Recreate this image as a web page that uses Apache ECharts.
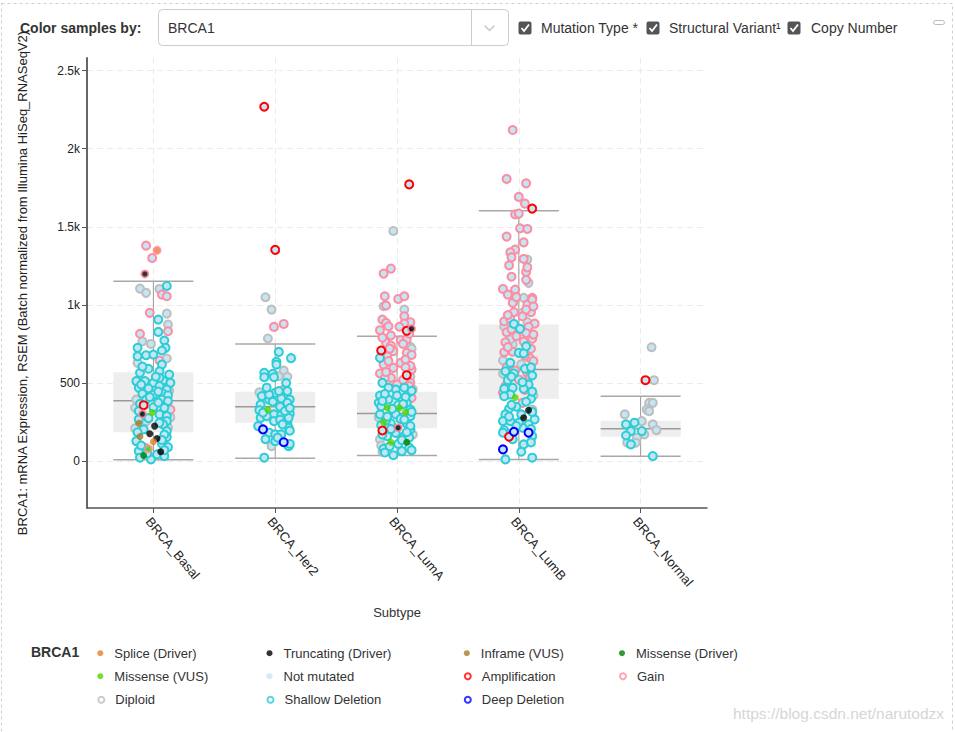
<!DOCTYPE html>
<html><head><meta charset="utf-8">
<script src="https://cdn.jsdelivr.net/npm/echarts@6/dist/echarts.min.js"></script>
<style>html,body{margin:0;padding:0;background:#fff;}#chart{width:955px;height:732px;}</style>
</head><body><div id="chart"></div>
<script>
// ---------------- DATA ----------------
const categories = ['BRCA_Basal', 'BRCA_Her2', 'BRCA_LumA', 'BRCA_LumB', 'BRCA_Normal'];
const yTicks = [0, 500, 1000, 1500, 2000, 2500];
const yTickLabels = ['0', '500', '1k', '1.5k', '2k', '2.5k'];
const yAxisTitle = 'BRCA1: mRNA Expression, RSEM (Batch normalized from Illumina HiSeq_RNASeqV2)';
const xAxisTitle = 'Subtype';

// box stats per subtype: [low whisker, Q1, median, Q3, high whisker]
const boxBasal  = [9, 185, 386, 569, 1151];
const boxHer2   = [19, 245, 348, 444, 750];
const boxLumA   = [36, 211, 305, 444, 799];
const boxLumB   = [11, 399, 586, 874, 1603];
const boxNormal = [32, 156, 207, 258, 416];

// samples: [value, jitter (category units), copy number code, mutation code]
// copy number: d Diploid, g Gain, a Amplification, s Shallow Deletion, x Deep Deletion
// mutation: P Splice (Driver), T Truncating (Driver), I Inframe (VUS), M Missense (Driver), V Missense (VUS)
const ptsBasal = [
  [1379,-0.06,'g'],[1349,0.03,'g','P'],[1300,-0.01,'g'],[1198,-0.07,'g','T'],[1104,-0.11,'d'],[1077,-0.06,'d'],
  [1102,0.05,'d'],[1121,0.11,'s'],[1066,0.07,'g'],[1055,0.11,'g'],[949,-0.03,'g'],[944,0.11,'d'],[906,0.04,'s'],
  [874,0.12,'d'],[831,0.12,'g'],[827,0.04,'s'],[815,-0.11,'g'],[767,-0.09,'d'],[750,-0.02,'d'],[772,0.09,'s'],
  [725,0.10,'s'],[725,-0.13,'s'],[708,0.07,'s'],[678,-0.06,'s'],[682,0,'s'],[671,-0.13,'s'],[657,0.11,'d'],
  [644,0.05,'g'],[629,-0.13,'d'],[618,0.07,'s'],[591,-0.04,'s'],[565,-0.11,'s'],[575,0.05,'s'],[554,0.13,'s'],
  [512,-0.14,'s'],[512,-0.07,'s'],[516,0.08,'s'],[501,0,'s'],[501,0.14,'s'],[469,-0.12,'s'],[465,-0.04,'s'],
  [480,0.05,'s'],[458,0.11,'s'],[431,-0.09,'s'],[426,0,'s'],[437,0.07,'s'],[422,0.12,'s'],[394,-0.14,'d'],
  [394,-0.06,'s'],[394,0.07,'s'],[384,0.12,'s'],[367,-0.11,'s'],[358,-0.08,'a'],[345,0,'s'],[341,0.09,'s'],
  [330,0.14,'g'],[341,-0.15,'d'],[299,0.05,'s'],[288,0.11,'s'],[267,-0.12,'s'],[256,-0.06,'d'],[256,0.11,'s'],
  [235,0.08,'s'],[214,0.12,'d'],[203,-0.08,'s'],[154,0.11,'s'],[128,-0.14,'s'],[111,0.07,'s'],[90,0.12,'s'],
  [86,-0.07,'g'],[64,-0.12,'s'],[11,-0.02,'s'],[43,0.03,'s'],[22,-0.11,'s'],[32,0.09,'s'],[533,0.05,'s'],
  [192,0.11,'s'],[605,-0.09,'s'],[540,0.02,'s'],[490,-0.10,'s'],[445,0.04,'s'],[410,-0.03,'s'],[375,0.04,'s'],
  [320,-0.12,'s'],[275,-0.04,'s'],[245,0.05,'s'],[185,-0.13,'s'],[170,0.09,'s'],[135,0.07,'s'],[100,-0.10,'s'],
  [70,0.09,'s'],[50,-0.05,'s'],[450,0.13,'d'],[210,-0.15,'d'],[280,0.14,'d'],
  [301,-0.09,'g','T'],[311,-0.01,'d','V'],[243,-0.12,'d','I'],[224,0.01,'d','T'],[175,-0.03,'d','T'],
  [158,-0.11,'d','I'],[145,0.03,'d','T'],[124,0,'d','P'],[79,-0.04,'g','V'],[60,0.06,'d','T'],[36,-0.08,'d','M']
];
const ptsHer2 = [
  [2268,-0.09,'a'],[1352,0,'a'],[1049,-0.08,'d'],[970,-0.03,'d'],[859,-0.01,'g'],[878,0.07,'g'],[785,-0.06,'d'],
  [699,0.03,'s'],[659,0.13,'s'],[636,0.01,'s'],[618,0.01,'s'],[580,0.07,'d'],[565,-0.09,'s'],[559,-0.02,'s'],
  [537,-0.09,'s'],[537,-0.01,'s'],[543,0.03,'d'],[458,0.07,'g'],[448,0.10,'s'],[416,-0.11,'s'],[437,0,'s'],
  [394,-0.05,'s'],[401,0.05,'s'],[394,0.12,'s'],[362,-0.12,'s'],[373,0.10,'s'],[348,0.04,'s'],[326,-0.13,'s'],
  [299,-0.01,'s'],[294,0.05,'s'],[303,0.12,'s'],[277,-0.12,'s'],[288,-0.07,'s'],[246,0.10,'s'],[277,0.11,'s'],
  [203,-0.10,'x'],[182,-0.05,'s'],[171,0,'s'],[214,0.11,'s'],[121,0.07,'x'],[128,0,'s'],[96,-0.03,'d'],
  [96,0.11,'s'],[22,-0.09,'s'],[171,0.05,'s'],[224,-0.14,'s'],[256,-0.01,'s'],[448,0.03,'s'],[426,-0.05,'s'],
  [320,0.08,'s'],[150,0.02,'s'],[500,0.09,'s'],[470,-0.07,'s'],[380,-0.02,'s'],[340,0.12,'s'],[310,-0.10,'s'],
  [265,0.04,'s'],[235,0.06,'s'],[195,0.12,'s'],[140,-0.08,'s'],[110,0.12,'s'],[540,0.10,'d'],[440,-0.13,'d'],
  [329,-0.06,'d','V']
];
const ptsLumA = [
  [1771,0.10,'a'],[1473,-0.03,'d'],[1200,-0.11,'g'],[1232,-0.05,'g'],[1055,-0.10,'g'],[1038,0.01,'g'],
  [1055,0.06,'g'],[991,-0.11,'d'],[996,-0.09,'g'],[970,0.06,'d'],[927,0.06,'g'],[906,-0.12,'g'],[885,-0.09,'g'],
  [889,0.11,'g'],[880,0.06,'g'],[838,-0.14,'g'],[863,-0.07,'g'],[834,0.08,'a'],[804,-0.05,'g'],[774,0.03,'g'],
  [731,0.11,'d'],[708,-0.13,'a'],[661,-0.14,'s'],[703,-0.03,'g'],[693,0.08,'g'],[671,-0.08,'g'],[629,0.03,'g'],
  [586,0.12,'g'],[618,-0.11,'g'],[597,-0.03,'g'],[561,-0.14,'g'],[550,0.08,'a'],[533,-0.05,'g'],[501,-0.12,'s'],
  [490,0,'g'],[501,0.11,'g'],[458,-0.01,'s'],[441,0.10,'s'],[420,-0.14,'s'],[405,0.12,'g'],[394,-0.07,'s'],
  [299,-0.14,'s'],[299,-0.01,'s'],[288,0.11,'s'],[241,-0.05,'s'],[241,0.08,'s'],[196,-0.12,'a'],[203,0.11,'s'],
  [160,-0.08,'s'],[160,0.06,'s'],[139,-0.14,'d'],[79,-0.11,'s'],[64,0.04,'s'],[86,0.10,'s'],[38,-0.03,'s'],
  [373,-0.15,'s'],[373,0.08,'s'],[394,0.04,'s'],[214,-0.09,'s'],[720,0.12,'d'],[757,-0.09,'g'],[778,0.08,'g'],
  [650,0.07,'g'],[470,-0.07,'s'],[470,0.06,'s'],[350,-0.13,'s'],[330,0.11,'s'],[270,0.03,'s'],[180,-0.01,'s'],
  [100,-0.13,'d'],[420,0,'s'],[540,0.11,'d'],[610,0.11,'g'],[740,-0.05,'g'],[530,-0.10,'g'],[480,0.10,'g'],
  [150,0.10,'s'],[260,-0.09,'s'],[360,0.01,'s'],[110,0.01,'s'],
  [860,0.02,'g'],[815,0.10,'g'],[790,-0.12,'g'],[750,0.05,'g'],[720,-0.06,'g'],[680,0.12,'g'],[640,-0.07,'g'],
  [600,0.07,'g'],[570,-0.09,'g'],[520,0.05,'g'],[460,0.13,'d'],[280,-0.15,'d'],[170,0.13,'d'],[60,-0.12,'d'],
  [430,-0.10,'s'],[410,0.07,'s'],[385,-0.12,'s'],[365,0.05,'s'],[335,-0.04,'s'],[315,0.12,'s'],[285,-0.08,'s'],
  [265,0.06,'s'],[230,-0.13,'s'],[225,0.11,'s'],[205,-0.05,'s'],[185,0.08,'s'],[170,-0.12,'s'],[135,0.04,'s'],
  [95,-0.06,'s'],[70,0.12,'s'],[55,-0.10,'s'],[450,0.12,'s'],
  [847,0.12,'g','T'],[341,-0.08,'d','V'],[341,0.02,'d','V'],[313,0.07,'d','V'],[249,-0.11,'d','V'],
  [214,0.01,'g','T'],[121,-0.05,'d','V'],[121,0.08,'d','M']
];
const ptsLumB = [
  [2119,-0.05,'g'],[1806,-0.10,'g'],[1778,0.06,'g'],[1691,0,'g'],[1648,0.05,'g'],[1616,0.11,'a'],[1579,-0.03,'g'],
  [1584,0,'g'],[1490,0.01,'g'],[1486,0.07,'g'],[1437,-0.10,'g'],[1354,-0.03,'g'],[1336,-0.07,'g'],[1304,-0.06,'g'],
  [1290,0.07,'d'],[1294,0.04,'g'],[1253,-0.08,'g'],[1211,0.06,'g'],[1141,0.08,'d'],[1160,0.06,'g'],[1102,-0.13,'g'],
  [1098,-0.03,'g'],[1066,-0.09,'g'],[1045,0.04,'d'],[1045,0.11,'g'],[1013,-0.05,'g'],[1002,0.07,'g'],[1020,-0.04,'d'],
  [1034,0.11,'g'],[953,-0.04,'g'],[927,0.03,'g'],[953,0.10,'g'],[895,-0.12,'g'],[880,0.13,'g'],[890,0.07,'d'],
  [825,-0.10,'g'],[783,0.11,'g'],[761,-0.11,'g'],[746,-0.05,'d'],[697,-0.12,'g'],[719,0.10,'g'],[644,-0.13,'d'],
  [522,0,'g'],[437,-0.13,'g'],[373,0.03,'g'],[970,0.06,'g'],[910,-0.07,'g'],[860,0.08,'g'],[800,-0.02,'g'],
  [660,0.09,'g'],[600,-0.10,'g'],[560,0.07,'g'],[480,-0.11,'g'],[620,0.02,'d'],[780,-0.07,'d'],[1180,-0.06,'g'],
  [1400,0.04,'g'],[1240,0.07,'g'],[700,-0.05,'g'],[820,0.06,'g'],
  [1050,-0.02,'g'],[990,0.12,'g'],[935,-0.09,'g'],[845,-0.06,'g'],[810,0.12,'g'],[765,0.04,'g'],[730,-0.09,'g'],
  [675,0.05,'g'],[640,0.12,'g'],[580,-0.03,'g'],[540,0.09,'g'],[455,0.05,'g'],
  [950,0.03,'d'],[860,-0.12,'d'],[560,-0.13,'d'],[420,0.12,'d'],[330,0.11,'d'],
  [878,-0.04,'s'],[847,0.01,'s'],[735,0.06,'s'],[693,0,'s'],[689,0.04,'s'],[629,-0.07,'s'],[591,0.05,'s'],
  [575,-0.11,'s'],[561,-0.04,'s'],[548,0.11,'s'],[518,-0.09,'s'],[490,0.08,'s'],[463,-0.12,'s'],[469,-0.05,'s'],
  [463,0.04,'s'],[426,-0.07,'s'],[399,0.10,'s'],[335,-0.08,'s'],[348,-0.02,'s'],[299,0.02,'s'],[299,-0.11,'s'],
  [267,0.13,'s'],[256,-0.13,'s'],[256,-0.07,'s'],[235,0.08,'s'],[198,-0.12,'s'],[107,0.04,'s'],[11,-0.11,'s'],
  [22,0.11,'s'],[182,-0.13,'s'],[214,0.03,'s'],[160,0.11,'s'],[246,0,'s'],
  [600,0.10,'s'],[540,-0.06,'s'],[505,0.03,'s'],[445,0.11,'s'],[415,-0.12,'s'],[380,0.06,'s'],[360,-0.06,'s'],
  [315,0.11,'s'],[285,-0.08,'s'],[225,-0.02,'s'],[205,0.10,'s'],[140,-0.05,'s'],[120,0.10,'s'],[60,0.02,'s'],
  [188,-0.04,'x'],[182,0.08,'x'],[75,-0.13,'x'],[156,-0.08,'a'],
  [407,-0.03,'d','V'],[326,0.08,'d','T'],[277,0.04,'d','T']
];
const ptsNormal = [
  [729,0.09,'d'],[518,0.04,'a'],[518,0.11,'d'],[373,0.07,'d'],[373,0.10,'d'],[330,0.05,'d'],[299,-0.13,'d'],
  [246,-0.05,'s'],[235,-0.12,'s'],[256,0.01,'d'],[235,0.10,'d'],[192,0.01,'s'],[198,0.13,'d'],[192,-0.08,'s'],
  [164,-0.12,'s'],[150,-0.03,'d'],[171,0.03,'d'],[118,-0.11,'d'],[107,-0.08,'s'],[118,-0.04,'d'],[32,0.10,'s'],
  [320,0.07,'d'],[225,-0.07,'d']
];

const cnaNames = {d: 'Diploid', g: 'Gain', a: 'Amplification', s: 'Shallow Deletion', x: 'Deep Deletion'};
const mutNames = {P: 'Splice (Driver)', T: 'Truncating (Driver)', I: 'Inframe (VUS)', M: 'Missense (Driver)', V: 'Missense (VUS)'};
const legendRows = [
  ['Splice (Driver)', 'Truncating (Driver)', 'Inframe (VUS)', 'Missense (Driver)'],
  ['Missense (VUS)', 'Not mutated', 'Amplification', 'Gain'],
  ['Diploid', 'Shallow Deletion', 'Deep Deletion']
];

// ---------------- STYLE ----------------
const FONT = '"Liberation Sans", Arial, Helvetica, sans-serif';
const colors = {
  'Splice (Driver)': '#e5802b', 'Truncating (Driver)': '#000000', 'Inframe (VUS)': '#a68028',
  'Missense (Driver)': '#008000', 'Missense (VUS)': '#53d400', 'Not mutated': '#c4e5f5',
  'Amplification': '#ff0000', 'Gain': '#ff8c9f', 'Diploid': '#bebebe',
  'Shallow Deletion': '#2aced4', 'Deep Deletion': '#0000ff'
};
const cnaDrawOrder = ['d', 'g', 's', 'a', 'x'];
const BOX_W = 0.657;

const allPts = [ptsBasal, ptsHer2, ptsLumA, ptsLumB, ptsNormal];
const allBoxes = [boxBasal, boxHer2, boxLumA, boxLumB, boxNormal];

const series = [];
series.push({
  type: 'custom', name: 'box', silent: true, z: 1,
  data: allBoxes.map((b, i) => [i].concat(b)),
  renderItem(params, api) {
    const i = api.value(0);
    const lo = api.coord([i, api.value(1)]);
    const q1 = api.coord([i, api.value(2)]);
    const md = api.coord([i, api.value(3)]);
    const q3 = api.coord([i, api.value(4)]);
    const hi = api.coord([i, api.value(5)]);
    const w = api.size([BOX_W, 0])[0];
    const x0 = lo[0] - w / 2;
    return {type: 'group', children: [
      {type: 'line', shape: {x1: lo[0], y1: lo[1], x2: hi[0], y2: hi[1]}, style: {stroke: '#9a9a9a', lineWidth: 1}},
      {type: 'rect', shape: {x: x0, y: q3[1], width: w, height: q1[1] - q3[1]}, style: {fill: '#eeeeee'}},
      {type: 'line', shape: {x1: x0, y1: md[1], x2: x0 + w, y2: md[1]}, style: {stroke: '#9a9a9a', lineWidth: 1.5}},
      {type: 'line', shape: {x1: x0, y1: lo[1], x2: x0 + w, y2: lo[1]}, style: {stroke: '#a8a8a8', lineWidth: 1.5}},
      {type: 'line', shape: {x1: x0, y1: hi[1], x2: x0 + w, y2: hi[1]}, style: {stroke: '#a8a8a8', lineWidth: 1.5}}
    ]};
  }
});

cnaDrawOrder.forEach(code => {
  const data = [];
  allPts.forEach((pts, i) => pts.forEach(p => { if (!p[3] && p[2] === code) data.push([i + p[1], p[0]]); }));
  series.push({
    type: 'scatter', name: 'pts-' + code, z: 3, silent: true, symbol: 'circle', symbolSize: 8,
    itemStyle: {color: colors['Not mutated'], borderColor: colors[cnaNames[code]], borderWidth: 2, opacity: 1},
    data
  });
});
const mutData = [];
allPts.forEach((pts, i) => pts.forEach(p => {
  if (p[3]) {
    const ring = (p[2] === 'g' || p[2] === 'a');
    mutData.push({value: [i + p[1], p[0]], symbolSize: 7,
      itemStyle: {color: colors[mutNames[p[3]]], borderColor: colors[cnaNames[p[2]]], borderWidth: ring ? 2 : 0}});
  }
}));
series.push({type: 'scatter', name: 'pts-mut', z: 4, silent: true, symbol: 'circle', data: mutData});

// legend dummy series + legends
const legendCols = [100.3, 269.5, 466.8, 622];
const legendRowY = [652.7, 675.7, 699.3];
const ringNames = ['Amplification', 'Gain', 'Diploid', 'Shallow Deletion', 'Deep Deletion'];
const legends = [];
legendRows.forEach((row, r) => row.forEach((name, c) => {
  const ring = ringNames.indexOf(name) >= 0;
  const st = ring ? {color: '#ffffff', borderColor: colors[name], borderWidth: 2}
                  : {color: colors[name], borderColor: colors[name], borderWidth: 0};
  series.push({type: 'scatter', name, data: [], itemStyle: st});
  legends.push({
    left: legendCols[c] - 3, top: legendRowY[r] - 6, padding: 0, itemGap: 0,
    itemWidth: 18, itemHeight: 6, selectedMode: false,
    data: [{name, icon: 'circle', itemStyle: st}],
    textStyle: {fontFamily: FONT, fontSize: 13, color: '#333'}
  });
}));

const chart = echarts.init(document.getElementById('chart'), null, {renderer: 'svg'});
chart.setOption({
  backgroundColor: '#fff',
  animation: false,
  textStyle: {fontFamily: FONT},
  grid: {left: 87, top: 58, width: 620, height: 450, containLabel: false, outerBoundsMode: 'none'},
  xAxis: {
    type: 'value', min: -0.545, max: 4.545,
    name: xAxisTitle, nameLocation: 'middle', nameGap: 98, nameMoveOverlap: false,
    nameTextStyle: {fontFamily: FONT, fontSize: 13, color: '#333'},
    axisLine: {show: true, onZero: false, lineStyle: {color: '#555', width: 1.5}},
    axisTick: {show: true, length: 5, customValues: [0, 1, 2, 3, 4], lineStyle: {color: '#555'}},
    axisLabel: {customValues: [0, 1, 2, 3, 4], formatter: v => categories[Math.round(v)], rotate: -50,
      verticalAlign: 'top', fontFamily: FONT, fontSize: 13, color: '#222', margin: 7},
    splitLine: {show: true, lineStyle: {color: '#ebebeb', type: [6, 4], width: 1}}
  },
  yAxis: {
    type: 'value', min: -300, max: 2580,
    name: yAxisTitle, nameLocation: 'middle', nameGap: 58, nameMoveOverlap: false,
    nameTextStyle: {fontFamily: FONT, fontSize: 13, color: '#222'},
    axisLine: {show: true, onZero: false, lineStyle: {color: '#666', width: 2}},
    axisTick: {show: true, length: 5, customValues: yTicks, lineStyle: {color: '#555'}},
    axisLabel: {customValues: yTicks, formatter: v => yTickLabels[yTicks.indexOf(v)], fontFamily: FONT,
      fontSize: 12, color: '#222', margin: 7},
    splitLine: {show: true, lineStyle: {color: '#ebebeb', type: [6, 4], width: 1}}
  },
  legend: legends,
  graphic: [
    {type: 'rect', silent: true, shape: {x: 1.5, y: 3.5, width: 951, height: 760},
      style: {fill: 'none', stroke: '#cfcfcf', lineWidth: 1, lineDash: [3, 3]}},
    {type: 'text', left: 20, top: 21, style: {text: 'Color samples by:', font: 'bold 14px ' + FONT, fill: '#333'}},
    {type: 'rect', shape: {x: 158.5, y: 9.5, width: 350, height: 36, r: 4}, style: {fill: '#fff', stroke: '#cccccc', lineWidth: 1}},
    {type: 'line', shape: {x1: 471.5, y1: 10, x2: 471.5, y2: 45}, style: {stroke: '#cccccc', lineWidth: 1}},
    {type: 'polyline', shape: {points: [[484.5, 25.5], [489.5, 30.5], [494.5, 25.5]]}, style: {stroke: '#c8c8c8', lineWidth: 1.5, fill: 'none'}},
    {type: 'text', left: 168, top: 21, style: {text: 'BRCA1', font: '14px ' + FONT, fill: '#333'}},
    {type: 'rect', shape: {x: 518.5, y: 21.5, width: 13, height: 13, r: 2}, style: {fill: '#555'}},
    {type: 'polyline', shape: {points: [[521.5, 28], [524, 31], [529, 24.5]]}, style: {stroke: '#fff', lineWidth: 1.8, fill: 'none'}},
    {type: 'text', left: 541, top: 21, style: {text: 'Mutation Type *', font: '14px ' + FONT, fill: '#333'}},
    {type: 'rect', shape: {x: 646.5, y: 21.5, width: 13, height: 13, r: 2}, style: {fill: '#555'}},
    {type: 'polyline', shape: {points: [[649.5, 28], [652, 31], [657, 24.5]]}, style: {stroke: '#fff', lineWidth: 1.8, fill: 'none'}},
    {type: 'text', left: 669, top: 21, style: {text: 'Structural Variant¹', font: '14px ' + FONT, fill: '#333'}},
    {type: 'rect', shape: {x: 787.5, y: 21.5, width: 13, height: 13, r: 2}, style: {fill: '#555'}},
    {type: 'polyline', shape: {points: [[790.5, 28], [793, 31], [798, 24.5]]}, style: {stroke: '#fff', lineWidth: 1.8, fill: 'none'}},
    {type: 'text', left: 811, top: 21, style: {text: 'Copy Number', font: '14px ' + FONT, fill: '#333'}},
    {type: 'rect', shape: {x: 933.5, y: 20.5, width: 11, height: 4, r: 2}, style: {fill: '#fff', stroke: '#bbb', lineWidth: 1}},
    {type: 'text', left: 31, top: 645, style: {text: 'BRCA1', font: 'bold 14px ' + FONT, fill: '#333'}},
    {type: 'text', left: 733, top: 705, style: {text: 'https://blog.csdn.net/narutodzx', font: '15.5px ' + FONT, fill: '#d6d6d6'}}
  ],
  series
});
</script></body></html>
